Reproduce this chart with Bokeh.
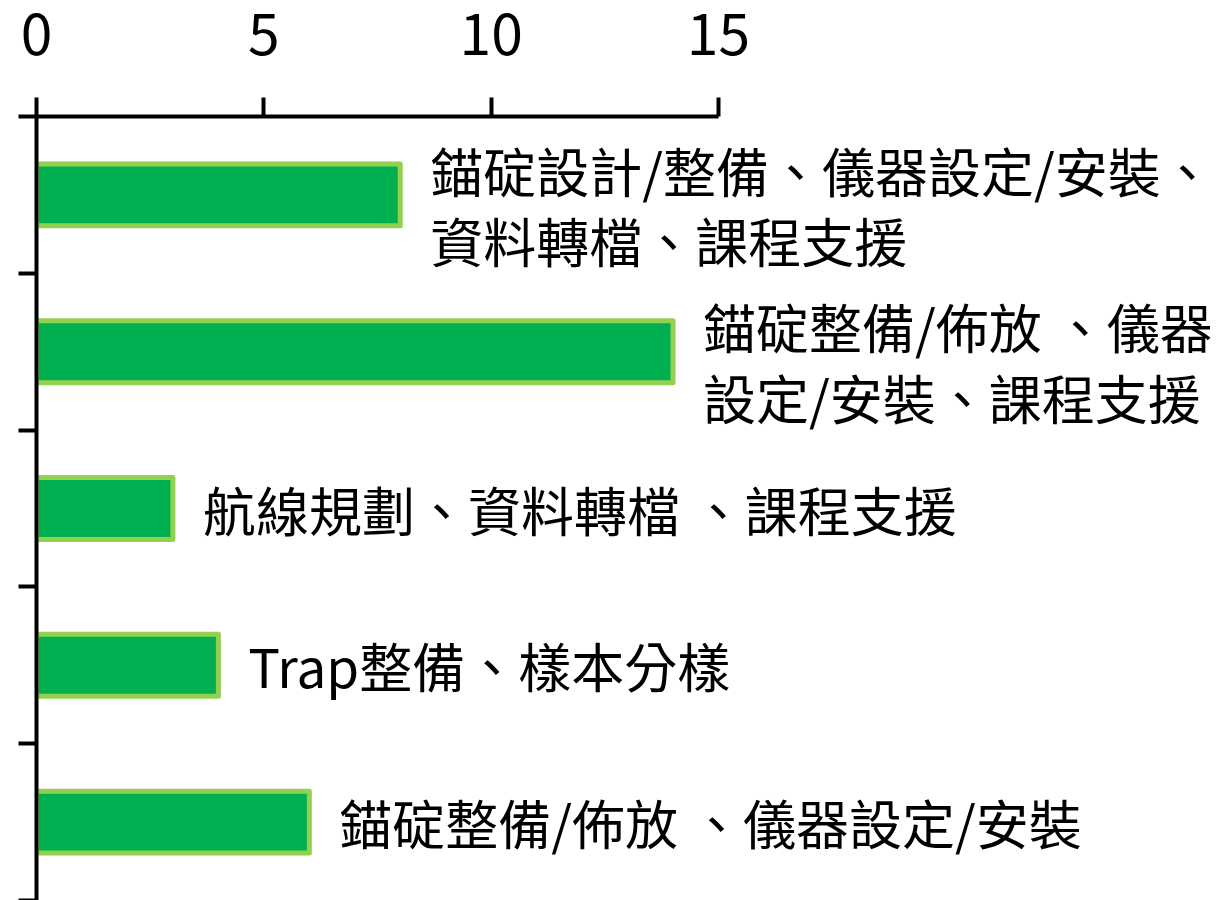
from bokeh.plotting import figure
from bokeh.models import Range1d, FixedTicker, ColumnDataSource
from bokeh.core.properties import value
from bokeh.embed import file_html
from bokeh.resources import INLINE

# ---- data ----
labels = [
    "錨碇設計/整備、儀器設定/安裝、\n資料轉檔、課程支援",
    "錨碇整備/佈放 、儀器\n設定/安裝、課程支援",
    "航線規劃、資料轉檔 、課程支援",
    "Trap整備、樣本分樣",
    "錨碇整備/佈放 、儀器設定/安裝",
]
values = [8, 14, 3, 4, 6]
x_ticks = [0, 5, 10, 15]

# ---- layout ----
W, H = 1222, 900
left, top = 36, 116
px_per_unit = (718 - 36) / 15
cat_px = 156.8
frame_w = W - left
frame_h = H - top

ys = [i + 0.5 for i in range(len(values))]
src = ColumnDataSource(dict(
    y=ys, v=values, label=labels,
    yoff=[10 if "\n" in t else 0 for t in labels],
))

p = figure(width=W, height=H,
           x_range=Range1d(0, frame_w / px_per_unit),
           y_range=Range1d(frame_h / cat_px, 0),
           x_axis_location="above",
           output_backend="svg", toolbar_location=None,
           min_border_left=left, min_border_top=top,
           min_border_right=0, min_border_bottom=0)

p.xgrid.visible = False
p.ygrid.visible = False
p.outline_line_color = None
p.background_fill_color = "white"
p.border_fill_color = "white"

p.hbar(y="y", right="v", left=0, height=0.395, source=src,
       fill_color="#00B050", line_color="#92D050", line_width=5,
       line_join="round")

p.text(x="v", y="y", text="label", source=src, x_offset=30, y_offset="yoff",
       text_font=value("Noto Sans CJK TC"), text_font_size="53px",
       text_baseline="middle", text_align="left", text_line_height=0.93,
       text_color="black")

xa = p.xaxis[0]
xa.ticker = FixedTicker(ticks=x_ticks)
xa.bounds = (0, 15)
xa.axis_line_width = 4
xa.axis_line_color = "black"
xa.major_tick_line_width = 4
xa.major_tick_line_color = "black"
xa.major_tick_in = 0
xa.major_tick_out = 19
xa.minor_tick_line_color = None
xa.major_label_text_font = "Noto Sans CJK TC"
xa.major_label_text_font_size = "57px"
xa.major_label_text_color = "black"
xa.major_label_standoff = 43

ya = p.yaxis[0]
ya.ticker = FixedTicker(ticks=list(range(len(values) + 1)))
ya.axis_line_width = 4
ya.axis_line_color = "black"
ya.major_tick_line_width = 4
ya.major_tick_line_color = "black"
ya.major_tick_in = 0
ya.major_tick_out = 18
ya.minor_tick_line_color = None
ya.major_label_overrides = {i: "" for i in range(len(values) + 1)}
ya.major_label_standoff = 0

open("out.html", "w").write(file_html(p, INLINE))
